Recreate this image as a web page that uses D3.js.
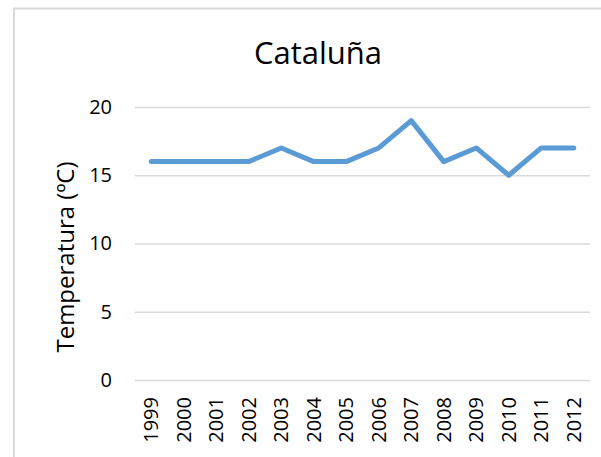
<!DOCTYPE html>
<html lang="es">
<head>
    <meta charset="UTF-8">
    <script src="https://cdn.jsdelivr.net/npm/d3@7"></script>
    <style>
        body { margin: 0; background: #fff; }
        .grid line { stroke: #d9d9d9; stroke-width: 1.3px; }
        .grid path { display: none; }
        .axis path, .axis line { display: none; }
    </style>
</head>
<body>
<svg id="chart" width="601" height="457"></svg>
<script>
    var years = ["1999", "2000", "2001", "2002", "2003", "2004", "2005",
        "2006", "2007", "2008", "2009", "2010", "2011", "2012"];
    var temps = [16, 16, 16, 16, 17, 16, 16, 17, 19, 16, 17, 15, 17, 17];
    var yTicks = [0, 5, 10, 15, 20];

    var font = "'Open Sans', 'Liberation Sans', sans-serif";
    var svg = d3.select("#chart");
    var plotLeft = 135, plotRight = 590, plotTop = 107, plotBottom = 380;

    // outer chart frame (runs off the right/bottom edge)
    svg.append("rect")
        .attr("x", 14).attr("y", 8.5)
        .attr("width", 620).attr("height", 480)
        .attr("fill", "none")
        .attr("stroke", "#d9d9d9")
        .attr("stroke-width", 2);

    var x = d3.scaleBand().domain(years).range([plotLeft, plotRight]);
    var y = d3.scaleLinear().domain([0, 20]).range([plotBottom, plotTop]);

    svg.append("g")
        .attr("class", "grid")
        .attr("transform", "translate(" + plotLeft + ",0)")
        .call(d3.axisLeft(y).tickValues(yTicks).tickSize(-(plotRight - plotLeft)).tickFormat(""));

    svg.append("g")
        .attr("class", "axis")
        .attr("transform", "translate(" + (plotLeft - 14) + ",0)")
        .call(d3.axisLeft(y).tickValues(yTicks).tickSize(0).tickPadding(9))
        .attr("font-family", font)
        .attr("font-size", 20)
        .selectAll("text").attr("fill", "#000");

    svg.append("g")
        .attr("class", "axis")
        .attr("transform", "translate(0," + (plotBottom + 17) + ")")
        .call(d3.axisBottom(x).tickSize(0).tickPadding(0))
        .attr("font-family", font)
        .attr("font-size", 20)
        .selectAll("text")
        .attr("fill", "#000")
        .attr("transform", "rotate(-90)")
        .attr("text-anchor", "end")
        .attr("x", 0)
        .attr("y", 0)
        .attr("dy", "0.35em");

    var line = d3.line()
        .x(function (d, i) { return x(years[i]) + x.bandwidth() / 2; })
        .y(function (d) { return y(d); });

    svg.append("path")
        .datum(temps)
        .attr("d", line)
        .attr("fill", "none")
        .attr("stroke", "#5b9bd5")
        .attr("stroke-width", 5)
        .attr("stroke-linecap", "round")
        .attr("stroke-linejoin", "round");

    svg.append("text")
        .attr("x", 318).attr("y", 64)
        .attr("text-anchor", "middle")
        .attr("font-family", font)
        .attr("font-size", 31)
        .attr("fill", "#000")
        .text("Cataluña");

    svg.append("text")
        .attr("transform", "translate(74,257) rotate(-90)")
        .attr("text-anchor", "middle")
        .attr("font-family", font)
        .attr("font-size", 24)
        .attr("fill", "#000")
        .text("Temperatura (ºC)");
</script>
</body>
</html>
